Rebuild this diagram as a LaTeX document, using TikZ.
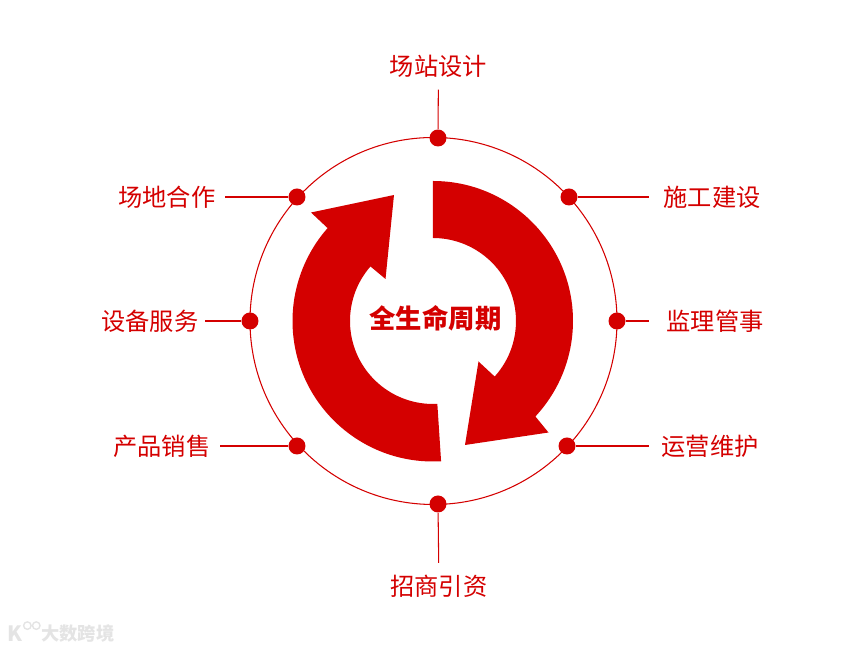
\documentclass[tikz,border=0pt]{standalone}
\usepackage{fontspec}
\setmainfont{Noto Sans CJK SC}
\usetikzlibrary{positioning}
\definecolor{cred}{HTML}{D40000}
\definecolor{cmark}{HTML}{E4E4E4}
\tikzset{
  every picture/.style={line width=0.6pt},
  dot/.style={circle, fill=cred, minimum size=0.34cm, inner sep=0pt},
  lab/.style={text=cred, font=\fontsize{13.8}{16}\selectfont, minimum height=0.92cm, inner ysep=0pt},
  link/.style={draw=cred, line width=0.6pt},
  ring/.style={circle, draw=cred, minimum size=7.34cm, inner sep=0pt},
  wmark/.style={text=cmark, font=\fontsize{10.4}{12}\selectfont\bfseries, inner sep=0pt},
  wloop/.style={circle, draw=cmark, line width=0.8pt, minimum size=0.15cm, inner sep=0pt},
}
\begin{document}
\begin{tikzpicture}
\useasboundingbox (-8.66,-6.58) rectangle (8.66,6.42);
% ring
\node[ring] (circ) at (0.01,0) {};
% stations
\foreach \nm/\dx/\dy/\lx/\ly/\gp/\txt in {
  a/0.10/3.66/0.11/5.10/0.18/场站设计,
  b/2.72/2.48/5.58/2.48/0.28/施工建设,
  c/3.68/0/5.64/0/0.34/监理管事,
  d/2.68/-2.50/5.54/-2.50/0.24/运营维护,
  e/0.10/-3.66/0.12/-5.31/0.18/招商引资,
  f/-2.72/-2.50/-5.42/-2.50/0.18/产品销售,
  g/-3.66/0/-5.66/0/0.12/设备服务,
  h/-2.72/2.48/-5.32/2.48/0.18/场地合作} {
  \node[dot] (dot\nm) at (\dx,\dy) {};
  \node[lab, inner xsep=\gp cm] (lab\nm) at (\lx,\ly) {\txt};
  \draw[link] (lab\nm) -- (dot\nm);
}
% arrows
\fill[cred] (90:2.8) arc[start angle=90, end angle=-43, radius=2.8] -- (2.31,-2.23) -- (0.64,-2.48) -- (0.91,-0.81) -- (-42:1.66) arc[start angle=-42, end angle=90, radius=1.66] -- cycle;
\fill[cred] (-86.7:2.81) arc[start angle=-86.7, end angle=-221.4, radius=2.81] -- (-2.44,2.17) -- (-0.78,2.52) -- (-0.95,0.84) -- (138.9:1.66) arc[start angle=138.9, end angle=273, radius=1.66] -- cycle;
\node[text=cred, font=\fontsize{15}{18}\selectfont\bfseries] (title) at (0.05,0.06) {全生命周期};
% watermark
\node[wmark] (marktxt) at (-7.1,-6.26) {大数跨境};
\node[wmark, font=\fontsize{12}{12}\selectfont\bfseries, left=0.36cm of marktxt] (markk) {K};
\node[wloop, right=0cm of markk.north east] (marka) {};
\node[wloop, right=0cm of marka] (markb) {};
\end{tikzpicture}
\end{document}
